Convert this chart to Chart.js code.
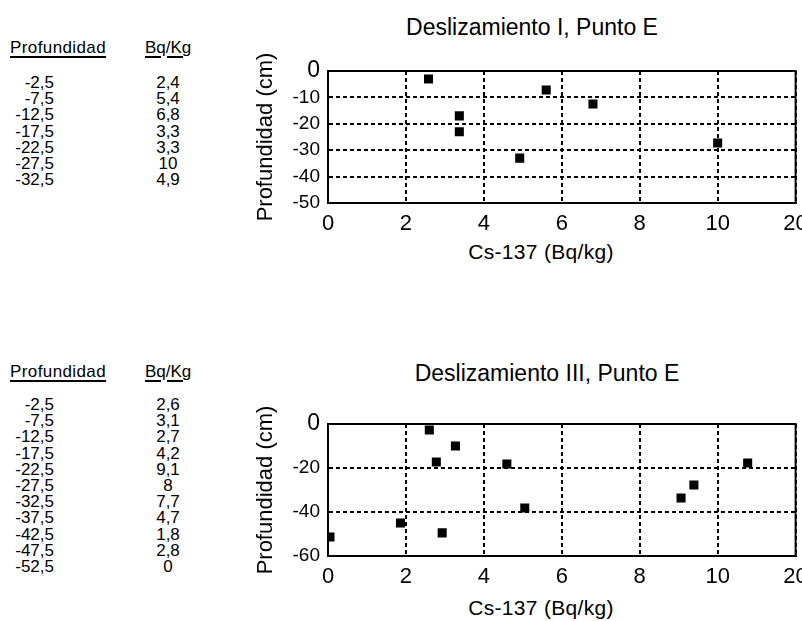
<!DOCTYPE html>
<html>
<head>
<meta charset="utf-8">
<script src="https://cdn.jsdelivr.net/npm/chart.js@4.4.1/dist/chart.umd.min.js"></script>
<style>
  body { margin: 0; background: #fff; width: 802px; height: 621px; overflow: hidden; position: relative;
         font-family: "Liberation Sans", Arial, sans-serif; color: #000; }
  .txt { position: absolute; white-space: nowrap; }
  .head { text-decoration: underline; text-decoration-thickness: 2px; text-underline-offset: 3px; }
  .titulo { font-size: 23px; line-height: 26px; width: 400px; text-align: center; }
  .ejex { font-size: 21px; line-height: 24px; width: 240px; text-align: center; letter-spacing: 0.3px; }
  canvas { position: absolute; }
</style>
</head>
<body>
<div id="tablas"></div>
<div class="txt titulo" style="left:332px;top:14px;">Deslizamiento I, Punto E</div>
<div class="txt titulo" style="left:347px;top:360px;">Deslizamiento III, Punto E</div>
<div class="txt ejex" style="left:421px;top:240px;">Cs-137 (Bq/kg)</div>
<div class="txt ejex" style="left:421px;top:596px;">Cs-137 (Bq/kg)</div>
<canvas id="chartI" width="562" height="270" style="left:240px;top:0px;"></canvas>
<canvas id="chartIII" width="562" height="291" style="left:240px;top:330px;"></canvas>
<script>
// * datos de las tablas
const profundidadI = ["-2,5", "-7,5", "-12,5", "-17,5", "-22,5", "-27,5", "-32,5"];
const bqI = ["2,4", "5,4", "6,8", "3,3", "3,3", "10", "4,9"];
const profundidadIII = ["-2,5", "-7,5", "-12,5", "-17,5", "-22,5", "-27,5", "-32,5", "-37,5", "-42,5", "-47,5", "-52,5"];
const bqIII = ["2,6", "3,1", "2,7", "4,2", "9,1", "8", "7,7", "4,7", "1,8", "2,8", "0"];

// * puntos como estan dibujados en las graficas (Cs-137, profundidad)
const csI = [2.58, 5.6, 6.8, 3.37, 3.37, 10, 4.92];
const profI = [-3, -7.2, -12.5, -17, -23, -27.3, -33];
const csIII = [2.6, 3.27, 2.78, 4.59, 10.77, 9.39, 9.06, 5.05, 1.86, 2.93, 0.05];
const profIII = [-2.7, -10, -17.3, -18.2, -17.7, -27.7, -33.6, -38.2, -45, -49.5, -51.4];

// eje x: marcas igualmente espaciadas, la ultima dice 20
const xLabels = ["0", "2", "4", "6", "8", "10", "20"];

// ? tablas de la izquierda
function tabla(prof, bq, topHead, topRow) {
  const cont = document.getElementById("tablas");
  const h1 = document.createElement("div");
  h1.className = "txt head";
  h1.style.cssText = `left:10px;top:${topHead}px;font-size:17px;line-height:18px;letter-spacing:0.4px;`;
  h1.textContent = "Profundidad";
  const h2 = document.createElement("div");
  h2.className = "txt head";
  h2.style.cssText = `left:145px;top:${topHead}px;font-size:17px;line-height:18px;`;
  h2.textContent = "Bq/Kg";
  cont.append(h1, h2);
  prof.forEach((p, i) => {
    const y = topRow + i * 16.2;
    const a = document.createElement("div");
    a.className = "txt";
    a.style.cssText = `left:0;width:54px;text-align:right;top:${y}px;font-size:17px;line-height:16px;`;
    a.textContent = p;
    const b = document.createElement("div");
    b.className = "txt";
    b.style.cssText = `left:138px;width:60px;text-align:center;top:${y}px;font-size:17px;line-height:16px;`;
    b.textContent = bq[i];
    cont.append(a, b);
  });
}
tabla(profundidadI, bqI, 39, 75);
tabla(profundidadIII, bqIII, 363, 397);

// ? marco completo alrededor del area
const marco = {
  id: "marco",
  afterDraw(chart) {
    const a = chart.chartArea;
    const ctx = chart.ctx;
    ctx.save();
    ctx.lineWidth = 2;
    ctx.strokeStyle = "#000";
    ctx.strokeRect(a.left, a.top, a.right - a.left, a.bottom - a.top);
    ctx.restore();
  },
};

function grafica(id, cs, prof, yMin, yStep, padTop, xHeight) {
  const ctx = document.getElementById(id).getContext("2d");
  return new Chart(ctx, {
    type: "scatter",
    data: {
      datasets: [
        {
          data: cs.map((v, i) => ({ x: v, y: prof[i] })),
          backgroundColor: "#000",
          borderWidth: 0,
          pointStyle: "rect",
          pointRadius: 6.4,
        },
      ],
    },
    options: {
      responsive: false,
      animation: false,
      layout: { padding: { top: padTop, right: 6, left: 0, bottom: 0 } },
      plugins: { legend: { display: false }, tooltip: { enabled: false } },
      scales: {
        x: {
          type: "linear",
          min: 0,
          max: 12,
          ticks: {
            stepSize: 2,
            autoSkip: false,
            color: "#000",
            padding: 8,
            maxRotation: 0,
            font: { family: "Liberation Sans", size: 22 },
            callback: (v) => xLabels[v / 2],
          },
          grid: { color: "#000", lineWidth: 2, drawTicks: false },
          border: { color: "#000", width: 2, dash: [4, 3] },
          afterFit: (s) => {
            s.height = xHeight;
            s.paddingLeft = 0;
            s.paddingRight = 0;
          },
        },
        y: {
          min: yMin,
          max: 0,
          ticks: {
            stepSize: yStep,
            autoSkip: false,
            color: "#000",
            padding: 8,
            font: (c) => ({ family: "Liberation Sans", size: c.tick && c.tick.value === 0 ? 23 : 19 }),
          },
          grid: { color: "#000", lineWidth: 2, drawTicks: false },
          border: { color: "#000", width: 2, dash: [4, 3] },
          title: {
            display: true,
            text: "Profundidad (cm)",
            color: "#000",
            padding: { top: 13, bottom: 13 },
            font: { family: "Liberation Sans", size: 22 },
          },
          afterFit: (s) => {
            s.width = 88;
          },
        },
      },
    },
    plugins: [marco],
  });
}

grafica("chartI", csI, profI, -50, 10, 71, 67);
grafica("chartIII", csIII, profIII, -60, 20, 94, 65);
</script>
</body>
</html>
